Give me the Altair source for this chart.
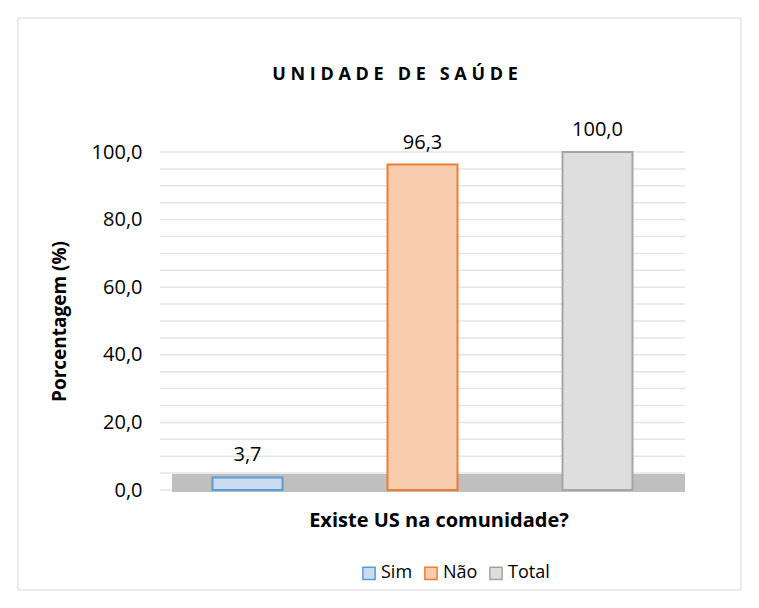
import altair as alt
import pandas as pd

categories = ["Sim", "Não", "Total"]
values = [3.7, 96.3, 100.0]
fill_colors = ["#C9DCF1", "#F8CDAE", "#DEDEDE"]
stroke_colors = ["#5B9BD5", "#ED7D31", "#A5A5A5"]
grid_values = list(range(0, 101, 5))
tick_values = list(range(0, 101, 20))
chart_title = "UNIDADE DE SAÚDE"

df = pd.DataFrame({
    "cat": categories,
    "val": values,
    "lab": [f"{v:.1f}".replace(".", ",") for v in values],
})
grid_df = pd.DataFrame({"g": grid_values})

W, H = 525, 338
FONT = "Open Sans"
NB = "\u00a0"

spaced_title = (NB * 3).join(NB.join(word) for word in chart_title.split(" "))
one = pd.DataFrame({"t": [spaced_title]})

xscale = alt.Scale(domain=categories, paddingInner=0.6, paddingOuter=0.3)
yscale = alt.Scale(domain=[0, 100], nice=False)

yaxis = alt.Axis(title="Porcentagem (%)", values=tick_values,
                 labelExpr="replace(format(datum.value, '.1f'), '.', ',')",
                 grid=False, ticks=False, domain=False,
                 labelFontSize=20, labelFont=FONT, labelColor="#000000", labelPadding=18,
                 titleFontSize=19, titleFont=FONT, titleFontWeight="bold",
                 titleColor="#000000", titlePadding=22)

frame = alt.Chart(one).mark_rect(
    filled=False, stroke="#D9D9D9", strokeWidth=1
).encode(
    x=alt.value(-142), x2=alt.value(581), y=alt.value(-134), y2=alt.value(438)
)

title = alt.Chart(one).mark_text(
    fontSize=18, font=FONT, fontWeight="bold", color="#000000", baseline="middle", align="center"
).encode(x=alt.value(235), y=alt.value(-77), text="t:N")

grid = alt.Chart(grid_df).mark_rule(color="#E4E4E4", strokeWidth=1.5).encode(
    y=alt.Y("g:Q", scale=yscale, axis=yaxis), x=alt.value(0), x2=alt.value(W)
)

floor = alt.Chart(one).mark_rect(color="#BFBFBF").encode(
    x=alt.value(12), x2=alt.value(525), y=alt.value(H - 16), y2=alt.value(H + 2)
)

base = alt.Chart(df)

leg = alt.Legend(title=None, orient="none", legendX=200, legendY=412,
                 direction="horizontal", symbolType="square", symbolSize=150,
                 labelFontSize=18, labelFont=FONT, labelColor="#000000",
                 columnPadding=8, labelOffset=3, symbolStrokeWidth=1.5)

bars = base.mark_bar(strokeWidth=2).encode(
    x=alt.X("cat:N", scale=xscale, sort=categories,
            axis=alt.Axis(title="Existe US na comunidade?", labels=False, ticks=False,
                          domain=False, grid=False, titleFontSize=20, titleFont=FONT, titleX=W / 2 + 16,
                          titleFontWeight="bold", titleColor="#000000", titlePadding=20)),
    y=alt.Y("val:Q", scale=yscale, axis=yaxis),
    fill=alt.Fill("cat:N", scale=alt.Scale(domain=categories, range=fill_colors),
                  sort=categories, legend=leg),
    stroke=alt.Stroke("cat:N", scale=alt.Scale(domain=categories, range=stroke_colors),
                      sort=categories, legend=leg),
)

text = base.mark_text(baseline="bottom", dy=-12, fontSize=20, font=FONT, color="#000000").encode(
    x=alt.X("cat:N", scale=xscale, sort=categories),
    y=alt.Y("val:Q", scale=yscale, axis=yaxis),
    text="lab:N",
)

chart = alt.layer(frame, title, grid, floor, bars, text).properties(
    width=W, height=H,
    background="white",
    autosize=alt.AutoSizeParams(type="none"),
    padding={"left": 152, "top": 144, "right": 66, "bottom": 110},
).configure_axis(domain=False, grid=False, ticks=False).configure_view(stroke=None, strokeWidth=0)

chart.save("out.html", embed_options={"renderer": "svg", "actions": False})
